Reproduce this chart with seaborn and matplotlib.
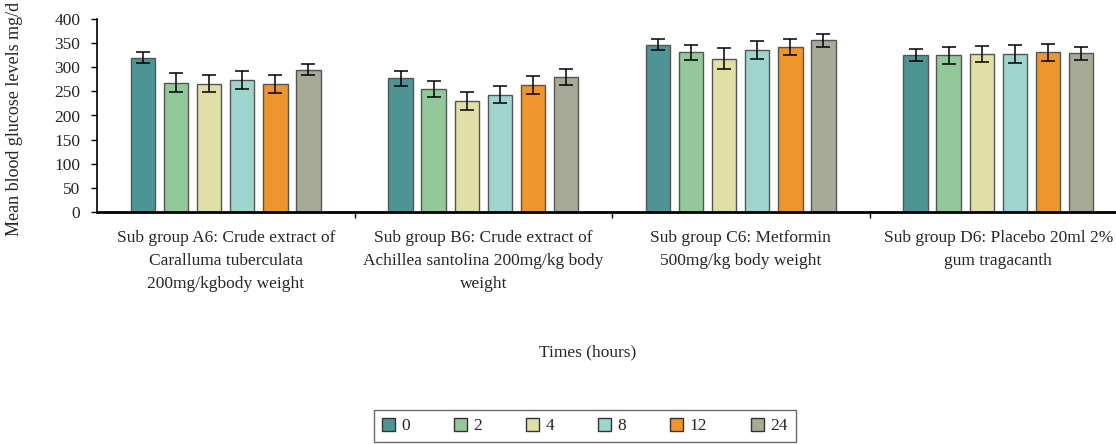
import matplotlib
matplotlib.use("Agg")
import matplotlib.pyplot as plt
from matplotlib.patches import Patch
import numpy as np
import pandas as pd
import seaborn as sns

# data
groups = [
    "Sub group A6: Crude extract of\nCaralluma tuberculata\n200mg/kgbody weight",
    "Sub group B6: Crude extract of\nAchillea santolina 200mg/kg body\nweight",
    "Sub group C6: Metformin\n500mg/kg body weight",
    "Sub group D6: Placebo 20ml 2%\ngum tragacanth",
]
times = ["0", "2", "4", "8", "12", "24"]

glucose_a = [320, 268, 266, 273, 265, 295]
glucose_b = [277, 255, 230, 243, 263, 280]
glucose_c = [347, 331, 318, 336, 342, 356]
glucose_d = [325, 325, 327, 327, 331, 329]

err_a = [12, 20, 18, 19, 18, 12]
err_b = [16, 16, 18, 18, 19, 16]
err_c = [12, 15, 21, 18, 16, 13]
err_d = [13, 18, 17, 19, 18, 14]

colors = ["#4f9494", "#93c99a", "#e0dfa6", "#9fd5cf", "#ee952b", "#a7aa96"]

rows = []
for g, vals, errs in zip(groups, [glucose_a, glucose_b, glucose_c, glucose_d],
                         [err_a, err_b, err_c, err_d]):
    for t, v, e in zip(times, vals, errs):
        rows.append({"group": g, "time": t, "glucose": v, "err": e})
df = pd.DataFrame(rows)

sns.set_style("white")
plt.rcParams["font.family"] = ["Liberation Serif", "DejaVu Serif"]

fig = plt.figure(figsize=(11.16, 4.44), dpi=100)
ax = fig.add_axes([97 / 1116, 232 / 444, 1030 / 1116, 193 / 444])

sns.barplot(data=df, x="group", y="glucose", hue="time", hue_order=times,
            palette=colors, saturation=1, width=0.77, gap=0.26,
            edgecolor="#555555", linewidth=1.0, errorbar=None, legend=False,
            ax=ax)

# error bars at bar centres
for i, t in enumerate(times):
    cont = ax.containers[i]
    sub = df[df["time"] == t]
    xs = [p.get_x() + p.get_width() / 2 for p in cont.patches]
    ax.errorbar(xs, sub["glucose"].values, yerr=sub["err"].values, fmt="none",
                ecolor="black", elinewidth=1.1, capsize=5, capthick=1.1, zorder=5)

ax.set_ylim(0, 400)
ax.set_xlim(-0.5, 3.5)
ax.set_yticks(range(0, 401, 50))
ax.tick_params(axis="y", labelsize=12.5, length=4, width=1, direction="out",
               left=True, color="black", pad=8)
ax.tick_params(axis="x", which="major", length=0, labelsize=12.5, pad=13)
ax.set_xticks([0.5, 1.5, 2.5], minor=True)
ax.tick_params(axis="x", which="minor", length=4, width=1, direction="out",
               bottom=True, color="black")
for lab in ax.get_xticklabels():
    lab.set_linespacing(1.6)

sns.despine(ax=ax, top=True, right=True)
ax.spines["left"].set_color("black")
ax.spines["left"].set_linewidth(1.2)
ax.spines["bottom"].set_color("black")
ax.spines["bottom"].set_linewidth(2)

ax.set_xlabel("")
ax.set_ylabel("Mean blood glucose levels mg/d", fontsize=13)
ax.yaxis.set_label_coords(-0.072, 0.48)

fig.text(588 / 1116, 1 - 352 / 444, "Times (hours)", ha="center", va="center",
         fontsize=12.5)

handles = [Patch(facecolor=c, edgecolor="#333333", linewidth=1.0) for c in colors]
leg = fig.legend(handles, times, loc="center", ncol=6,
                 bbox_to_anchor=(585 / 1116, 1 - 426 / 444), frameon=True,
                 fancybox=False, edgecolor="#444444", fontsize=12.5,
                 handlelength=0.75, handleheight=0.75, handletextpad=0.35,
                 columnspacing=2.55, borderpad=0.45)
leg.get_frame().set_linewidth(1.0)

fig.savefig("out.png", dpi=100)
